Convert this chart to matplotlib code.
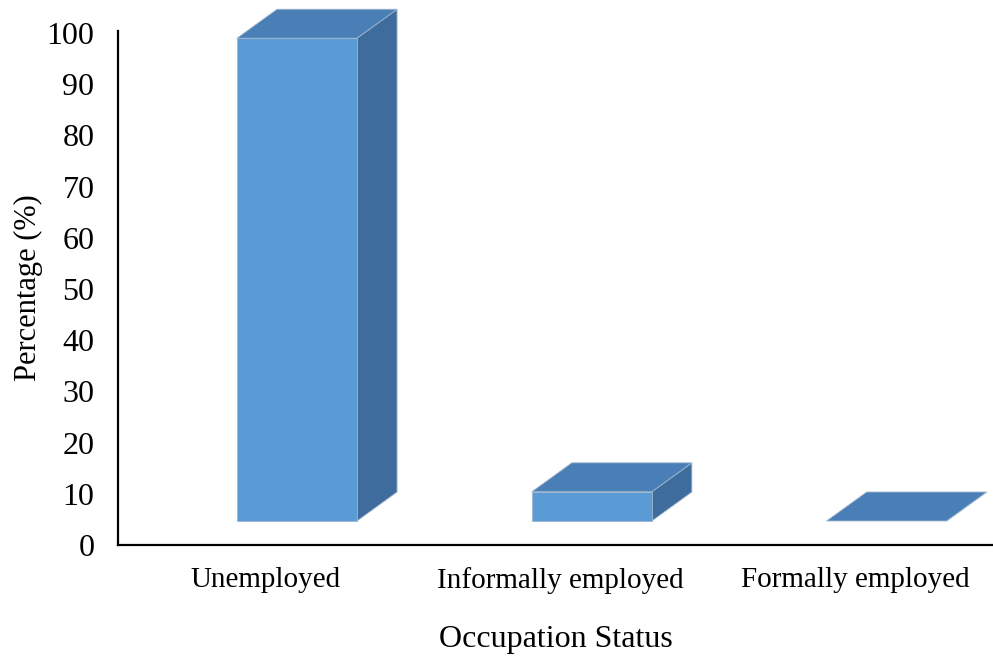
import numpy as np
import matplotlib.pyplot as plt

categories = ['Unemployed', 'Informally employed', 'Formally employed']
percentages = [94.3, 5.7, 0.0]
y_ticks = [0, 10, 20, 30, 40, 50, 60, 70, 80, 90, 100]

plt.rcParams['font.family'] = ['Liberation Serif', 'DejaVu Serif']

# pseudo-3D column geometry (data units)
bar_shift = 0.107
bar_width = 0.407
depth_dx = 0.136
depth_dy = 5.66
floor_lift = 4.69

front_color = '#5b9bd5'
top_color = '#4a7eb7'
side_color = '#3e6c9c'
edge_color = '#9fb6cc'

fig = plt.figure(figsize=(9.93, 6.59), dpi=100)
ax = fig.add_axes([118 / 993, 114 / 659, 875 / 993, 514 / 659])

x = np.arange(len(categories))
for xi, val in zip(x, percentages):
    x0 = xi + bar_shift - bar_width / 2
    x1 = xi + bar_shift + bar_width / 2
    y0 = floor_lift
    y1 = floor_lift + val
    # side face
    ax.fill([x1, x1 + depth_dx, x1 + depth_dx, x1],
            [y0, y0 + depth_dy, y1 + depth_dy, y1],
            color=side_color, ec=edge_color, lw=0.6, zorder=2, clip_on=False)
    # top face
    ax.fill([x0, x1, x1 + depth_dx, x0 + depth_dx],
            [y1, y1, y1 + depth_dy, y1 + depth_dy],
            color=top_color, ec=edge_color, lw=0.6, zorder=3, clip_on=False)
    # front face
    if val > 0:
        ax.bar(xi + bar_shift, val, width=bar_width, bottom=floor_lift,
               color=front_color, ec=edge_color, lw=0.6, zorder=4, clip_on=False)

ax.set_xlim(-0.5, 2.468)
ax.set_ylim(0, 100.4)
ax.set_yticks(y_ticks)
ax.set_xticks(x)
ax.set_xticklabels(categories)
ax.tick_params(axis='both', length=0)
ax.tick_params(axis='x', pad=16, labelsize=21)
ax.tick_params(axis='y', pad=17, labelsize=23)
ax.set_xlabel('Occupation Status', fontsize=23, labelpad=22)
fig.text(28 / 993, 1 - 288 / 659, 'Percentage (%)', fontsize=22,
         rotation=90, ha='center', va='center')

for side in ['top', 'right']:
    ax.spines[side].set_visible(False)
for side in ['left', 'bottom']:
    ax.spines[side].set_linewidth(1.6)
    ax.spines[side].set_color('black')

fig.savefig('out.png', dpi=100)
